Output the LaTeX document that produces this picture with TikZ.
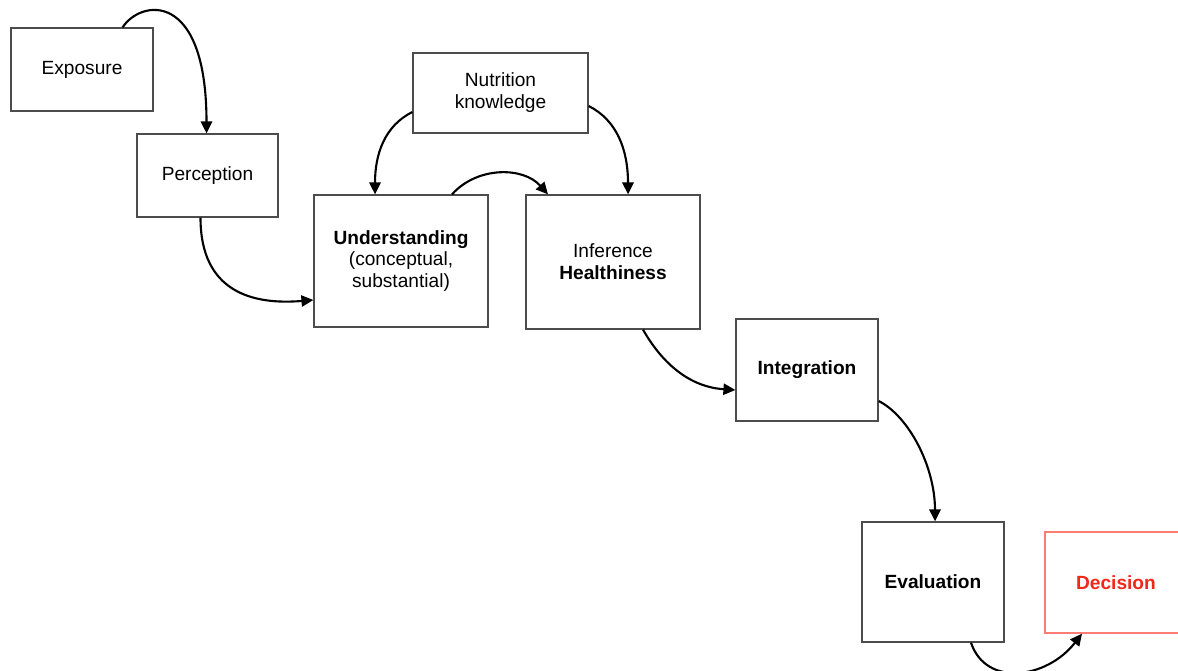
\documentclass[tikz,border=0pt]{standalone}
\usepackage{fontspec}
\setmainfont{Liberation Sans}
\usetikzlibrary{calc,arrows.meta}
\definecolor{decred}{RGB}{240,40,25}
\definecolor{decline}{RGB}{250,125,115}
\tikzset{
  stage/.style={draw=black!70, line width=0.9pt, inner sep=0pt, align=center,
    font=\fontsize{13.6}{15.6}\selectfont},
  arrow/.style={line width=1.5pt, -{Triangle[length=8.5pt,width=8pt]}}
}
\begin{document}
\begin{tikzpicture}[x=0.025cm, y=-0.025cm]
	%%%%% START %%%%%
	\def\px{0.025cm}
	\useasboundingbox (0,0) rectangle (1178,671);

	\node[stage, minimum width=142*\px, minimum height=83*\px] (exposure) at (82,69.5) {Exposure};
	\node[stage, minimum width=141*\px, minimum height=83*\px] (perception) at (207.5,175.5) {Perception};
	\node[stage, minimum width=175*\px, minimum height=80*\px] (knowledge) at (500.5,93) {Nutrition\\knowledge};
	\node[stage, minimum width=174*\px, minimum height=132*\px] (understanding) at (401,261) {\textbf{Understanding}\\(conceptual,\\substantial)};
	\node[stage, minimum width=174*\px, minimum height=134*\px] (inference) at (613,262) {Inference\\\textbf{Healthiness}};
	\node[stage, minimum width=142*\px, minimum height=102*\px] (integration) at (807,370) {\textbf{Integration}};
	\node[stage, minimum width=142*\px, minimum height=120*\px] (evaluation) at (933,582) {\textbf{Evaluation}};
	\node[stage, draw=decline, text=decred, minimum width=142*\px, minimum height=101*\px] (decision) at (1116,582.5) {\textbf{Decision}};

	\draw[arrow] ($(exposure.north east)+(-31,0)$) .. controls +(18,-28) and +(0,-144) .. ($(perception.north)+(-1,0)$);
	\draw[arrow] ($(perception.south)+(-7,0)$) .. controls +(0,75) and +(-60,5) .. ($(understanding.west)+(0,39)$);
	\draw[arrow] ($(knowledge.west)+(0,19)$) .. controls +(-28,14) and +(0,-40) .. ($(understanding.north)+(-26,0)$);
	\draw[arrow] ($(knowledge.east)+(0,13)$) .. controls +(28,14) and +(0,-45) .. ($(inference.north)+(15,0)$);
	\draw[arrow] ($(understanding.north)+(51,0)$) .. controls +(25,-28) and +(-25,-28) .. ($(inference.north)+(-65,0)$);
	\draw[arrow] ($(inference.south)+(30,0)$) .. controls +(20,35) and +(-45,-3) .. ($(integration.west)+(0,20)$);
	\draw[arrow] ($(integration.east)+(0,31)$) .. controls +(30,15) and +(0,-55) .. ($(evaluation.north)+(2,0)$);
	\draw[arrow] ($(evaluation.south)+(38,0)$) .. controls +(15,45) and +(-35,45) .. ($(decision.south)+(-34,0)$);
	%%%%% END %%%%%
\end{tikzpicture}
\end{document}
